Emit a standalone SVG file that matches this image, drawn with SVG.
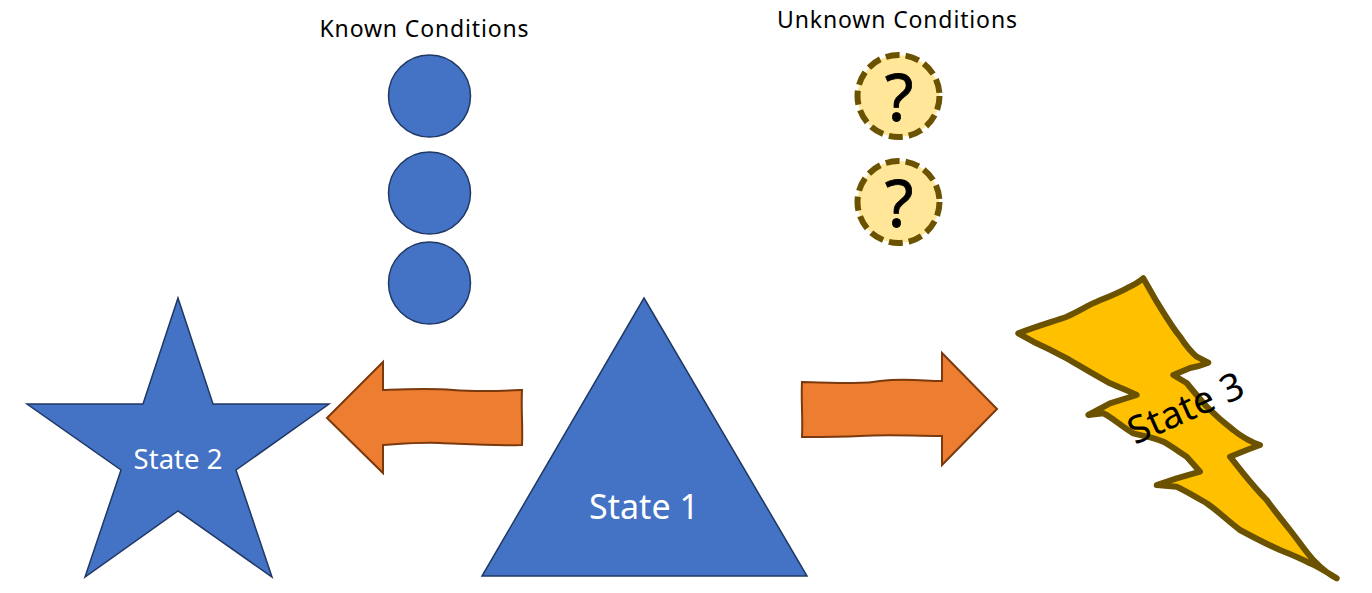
<svg xmlns="http://www.w3.org/2000/svg" width="1372" height="593" viewBox="0 0 1372 593">
<style>
.lbl{font-family:"Noto Sans","Open Sans","Liberation Sans",sans-serif;fill:#000;}
.wlbl{font-family:"Noto Sans","Open Sans","Liberation Sans",sans-serif;fill:#fff;text-anchor:middle;}
.blue{fill:#4472C4;stroke:#1F3864;stroke-width:1.5;stroke-linejoin:miter;}
.arrow{fill:#ED7D31;stroke:#7A3A0E;stroke-width:2;stroke-linejoin:miter;}
.q{fill:#FFE699;stroke:#6B5200;stroke-width:6;stroke-dasharray:14 6;}
.qm{font-family:"Noto Sans","Open Sans","Liberation Sans",sans-serif;font-size:66px;text-anchor:middle;fill:#000;stroke:#000;stroke-width:0.8;}
</style>
<rect width="1372" height="593" fill="#fff"/>

<g id="known-conditions">
  <text class="lbl" x="424" y="37" font-size="23" text-anchor="middle" textLength="209">Known Conditions</text>
  <circle class="blue" cx="429.5" cy="96" r="41"/>
  <circle class="blue" cx="429.5" cy="193" r="41"/>
  <circle class="blue" cx="429.5" cy="283" r="41"/>
</g>

<g id="unknown-conditions">
  <text class="lbl" x="897" y="28" font-size="23" text-anchor="middle" textLength="240">Unknown Conditions</text>
  <circle class="q" cx="898.5" cy="96" r="41"/>
  <text class="qm" x="899" y="121">?</text>
  <circle class="q" cx="898.5" cy="202" r="41"/>
  <text class="qm" x="899" y="227">?</text>
</g>

<g id="state2">
  <polygon class="blue" points="178,298 213,404 329,404 236,470 272,577 178,511 85,577 121,470 27,404 143,404"/>
  <text class="wlbl" x="178" y="469" font-size="27.5">State 2</text>
</g>

<g id="state1">
  <polygon class="blue" points="644,298 807,576 482,576"/>
  <text class="wlbl" x="644" y="519" font-size="34">State 1</text>
</g>

<g id="state3">
  <path d="M1018.3,333.3 C1040,325 1055,321 1066.7,316.7 C1080,311 1088,305 1096.7,301.7 C1108,297 1118,293 1126.7,288.3 C1134,285 1139,282 1143.3,278.3 L1156.7,301.7 C1165,315 1172,327 1180,336.7 C1186,346 1191,352 1196.7,356.7 L1208.3,362.7 C1200,366 1195,367 1190,368 L1173.3,375 L1186.7,383 C1194,392 1200,399 1206.7,406.7 C1216,416 1224,423 1233.3,430 C1242,437 1251,442 1260,445 L1246.7,450 L1230,456.7 L1243.3,473.3 C1252,484 1259,492 1266.7,500 C1274,510 1282,520 1290,530 C1298,540 1305,551 1313.3,560 C1320,567 1328,574 1336.7,578.3 C1328,573 1319,567 1310,563.3 C1300,558 1290,554 1280,550 C1266,544 1253,537 1240,530 C1228,521 1218,511 1206.7,503.3 C1196,497 1186,491 1176.7,486.7 L1156.7,485 L1176.7,478.3 L1200,471.7 L1186.7,456.7 C1178,451 1171,446 1163.3,441.7 C1153,437 1143,436 1133.3,433.3 C1122,427 1113,418 1103.3,413.3 L1088.3,415 L1110,403.3 L1136.7,395 C1127,390 1118,387 1110,383.3 C1095,375 1080,366 1066.7,358.3 C1055,352 1045,347 1033.3,341.7 Z" fill="#FFC000" stroke="#6B5200" stroke-width="6" stroke-linejoin="round"/>
  <text class="lbl" x="1191" y="420" font-size="38" text-anchor="middle" transform="rotate(-24 1191 420)">State 3</text>
</g>

<g id="connectors">
  <path class="arrow" d="M327,418 L383,362 L383,390 C410,389 430,388 453,390 C480,392 500,391 522,390 C521,410 523,428 522,445 C490,446 465,444 440,443 C420,442 400,444 383,445 L383,473 Z"/>
  <path class="arrow" d="M802,382 C840,383 865,384 880,381 C905,378 925,381 942,381 L942,353 L997,409 L942,465 L942,436 C910,436 890,434 860,436 C840,437 820,437 802,437 C803,418 801,400 802,382 Z"/>
</g>
</svg>
